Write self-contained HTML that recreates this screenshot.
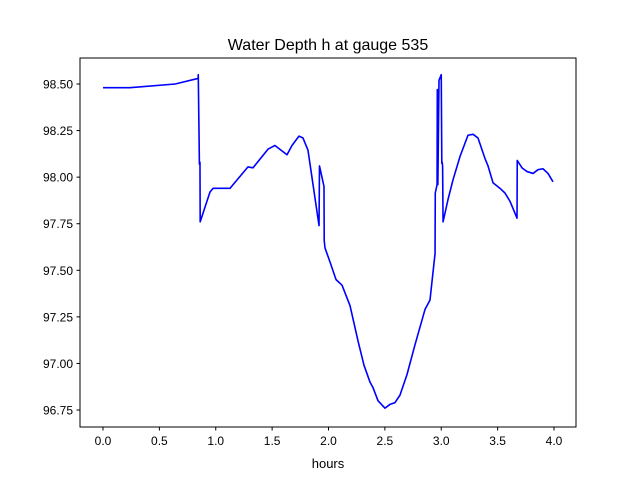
<!DOCTYPE html>
<html><head><meta charset="utf-8"><style>
body{margin:0;background:#fff}
svg{display:block;font-family:"Liberation Sans","DejaVu Sans",sans-serif}
</style></head><body>
<svg id="chart" width="640" height="480">
<rect width="640" height="480" fill="#fff"/>
<text x="328" y="50" text-anchor="middle" font-size="16">Water Depth h at gauge 535</text>
<g id="plot"></g>
<rect x="80" y="58" width="496" height="369" fill="none" stroke="#000" stroke-width="1"/>
<text x="328" y="468" text-anchor="middle" font-size="13">hours</text>
</svg>
<script>
const hours=[0,0.24,0.64,0.843,0.845,0.855,0.86,0.862,0.905,0.949,0.976,1.038,1.126,1.286,1.33,1.463,1.525,1.632,1.676,1.738,1.774,1.818,1.916,1.92,1.96,1.962,1.969,2.013,2.067,2.12,2.191,2.262,2.315,2.368,2.395,2.439,2.501,2.545,2.59,2.634,2.696,2.767,2.856,2.9,2.945,2.947,2.963,2.965,2.97,2.98,3.0,3.005,3.008,3.012,3.016,3.06,3.104,3.166,3.237,3.282,3.326,3.388,3.415,3.459,3.521,3.565,3.61,3.672,3.674,3.716,3.761,3.814,3.858,3.902,3.947,3.991];
const depth=[98.48,98.48,98.50,98.53,98.55,98.07,98.08,97.76,97.84,97.92,97.94,97.94,97.94,98.055,98.05,98.15,98.17,98.12,98.17,98.22,98.21,98.145,97.74,98.06,97.95,97.66,97.62,97.545,97.45,97.42,97.31,97.12,96.99,96.9,96.87,96.8,96.76,96.78,96.79,96.83,96.94,97.1,97.29,97.34,97.59,97.915,97.96,98.47,97.96,98.52,98.55,98.075,98.08,98.06,97.76,97.88,97.985,98.11,98.225,98.23,98.21,98.10,98.06,97.97,97.94,97.915,97.87,97.78,98.09,98.05,98.03,98.02,98.04,98.045,98.02,97.975];
const xTicks=[0,0.5,1,1.5,2,2.5,3,3.5,4];
const xTickLabels=["0.0","0.5","1.0","1.5","2.0","2.5","3.0","3.5","4.0"];
const yTicks=[96.75,97,97.25,97.5,97.75,98,98.25,98.5];
const yTickLabels=["96.75","97.00","97.25","97.50","97.75","98.00","98.25","98.50"];
const NS="http://www.w3.org/2000/svg";
const X=v=>103+v*112.75;
const Y=v=>84+(98.5-v)*186.3;
const g=document.getElementById('plot');
function mk(t,a){const e=document.createElementNS(NS,t);for(const k in a)e.setAttribute(k,a[k]);g.appendChild(e);return e;}
xTicks.forEach((t,i)=>{
 const l=mk('line',{x1:X(t),x2:X(t),y1:427,y2:430.5,stroke:'#000'});
 
 
 const tx=mk('text',{x:X(t),y:445,'text-anchor':'middle','font-size':'12'});
 tx.textContent=xTickLabels[i];
 
 
});
yTicks.forEach((t,i)=>{
 const l=mk('line',{x1:76.5,x2:80,y1:Y(t),y2:Y(t),stroke:'#000'});
 
 
 const tx=mk('text',{x:73,y:Y(t)+4.5,'text-anchor':'end','font-size':'12'});
 tx.textContent=yTickLabels[i];
 
 
});
const p=mk('polyline',{points:hours.map((h,i)=>X(h)+','+Y(depth[i])).join(' '),fill:'none',stroke:'#0000ff','stroke-width':'1.6','stroke-linejoin':'round'});


</script>
</body></html>
